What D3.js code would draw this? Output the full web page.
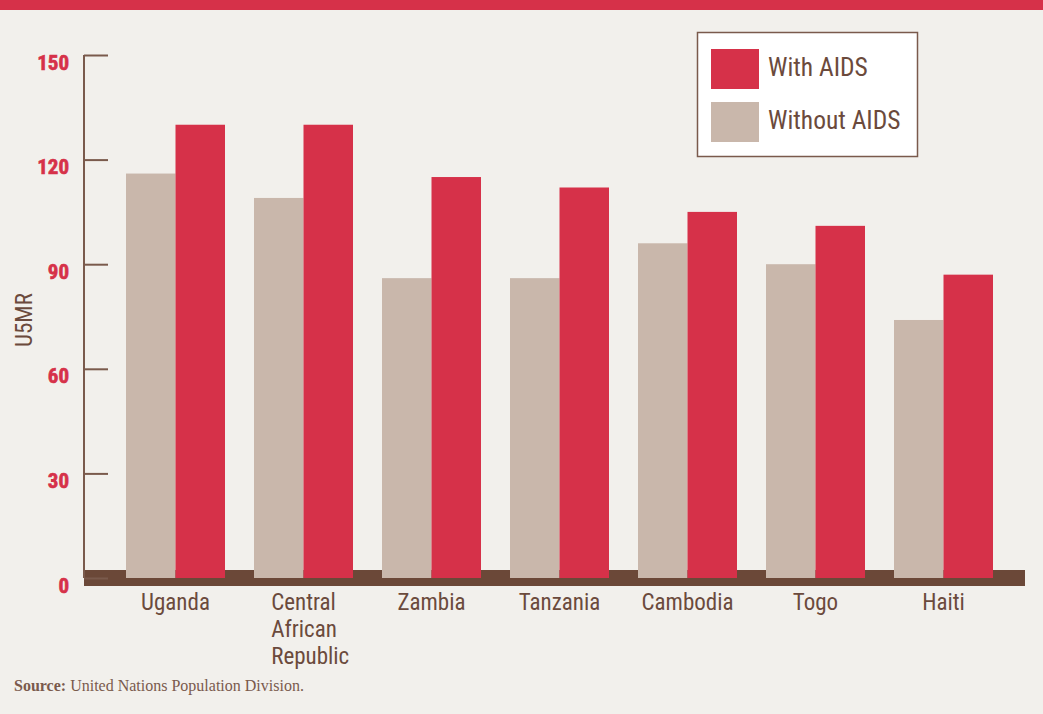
<!DOCTYPE html>
<html>
<head>
<meta charset="utf-8">
<script src="https://cdn.jsdelivr.net/npm/d3@7"></script>
<style>
  html, body { margin: 0; padding: 0; background: #f2f0ec; }
  svg { display: block; }
</style>
</head>
<body>
<svg id="chart" width="1043" height="714"></svg>
<script>
const categories = ["Uganda", "Central African Republic", "Zambia", "Tanzania", "Cambodia", "Togo", "Haiti"];
const categoryLines = [["Uganda"], ["Central", "African", "Republic"], ["Zambia"], ["Tanzania"], ["Cambodia"], ["Togo"], ["Haiti"]];
const seriesNames = ["Without AIDS", "With AIDS"];
const withoutAIDS = [116, 109, 86, 86, 96, 90, 74];
const withAIDS = [130, 130, 115, 112, 105, 101, 87];
const yTicks = [0, 30, 60, 90, 120, 150];
const legendOrder = ["With AIDS", "Without AIDS"];

const RED = "#d63149", TAN = "#c9b7ab", BROWN = "#6b4838", TEXT = "#6b4a3c";
const colors = { "Without AIDS": TAN, "With AIDS": RED };
const labelFont = "'Liberation Sans Narrow', 'Roboto Condensed', 'DejaVu Sans Condensed', sans-serif";

const svg = d3.select("#chart");
const W = 1043, H = 714;

svg.append("rect").attr("width", W).attr("height", H).attr("fill", "#f2f0ec");
svg.append("rect").attr("width", W).attr("height", 10).attr("fill", RED);

const y = d3.scaleLinear().domain([0, 150]).range([578, 55]);
const x0 = d3.scaleBand().domain(categories).range([111.5, 1007.5]).paddingInner(0.2266).paddingOuter(0.1133);
const x1 = d3.scaleBand().domain(seriesNames).range([0, x0.bandwidth()]);

const axisX = 84;

// base band
svg.append("rect").attr("x", axisX).attr("y", y(0) - 8).attr("width", 1025 - axisX).attr("height", 16).attr("fill", BROWN);

// y axis
const yAxis = d3.axisLeft(y).tickValues(yTicks).tickSize(-24).tickFormat("");
const gAxis = svg.append("g").attr("transform", `translate(${axisX},0)`).call(yAxis);
gAxis.select(".domain").attr("stroke", "#7a5a4c").attr("stroke-width", 2).attr("d", `M0,${y(150)}V${y(0)}`);
gAxis.selectAll(".tick line").attr("stroke", "#7a5a4c").attr("stroke-width", 2);

svg.append("g").selectAll("text").data(yTicks).join("text")
  .attr("x", 69).attr("y", d => y(d) + 9)
  .attr("text-anchor", "end").attr("dominant-baseline", "middle")
  .attr("font-family", labelFont).attr("font-weight", "bold").attr("font-size", 21)
  .attr("stroke", RED).attr("stroke-width", 0.6)
  .attr("fill", RED).text(d => d);

// bars
const data = categories.map((c, i) => ({ c, vals: [{ s: "Without AIDS", v: withoutAIDS[i] }, { s: "With AIDS", v: withAIDS[i] }] }));
const groups = svg.append("g").selectAll("g").data(data).join("g")
  .attr("transform", d => `translate(${x0(d.c)},0)`);
groups.selectAll("rect").data(d => d.vals).join("rect")
  .attr("x", d => x1(d.s)).attr("width", x1.bandwidth())
  .attr("y", d => y(d.v)).attr("height", d => y(0) - y(d.v))
  .attr("fill", d => colors[d.s]);

// category labels
categories.forEach((c, i) => {
  const cx = x0(c) + x0.bandwidth() / 2;
  const lines = categoryLines[i];
  const t = svg.append("text")
    .attr("font-family", labelFont).attr("font-size", 23).attr("fill", TEXT);
  lines.forEach((l, j) => {
    t.append("tspan").attr("x", cx).attr("y", 610 + j * 27).text(l);
  });
  if (lines.length > 1) {
    const firstW = t.select("tspan").node().getComputedTextLength();
    t.attr("text-anchor", "start");
    t.selectAll("tspan").attr("x", cx - firstW / 2);
  } else {
    t.attr("text-anchor", "middle");
  }
});

// y title
svg.append("text")
  .attr("transform", "translate(32,320) rotate(-90)")
  .attr("text-anchor", "middle")
  .attr("font-family", labelFont).attr("font-size", 23).attr("fill", TEXT)
  .text("U5MR");

// legend
const lg = svg.append("g");
lg.append("rect").attr("x", 697.5).attr("y", 32.5).attr("width", 220).attr("height", 124)
  .attr("fill", "#ffffff").attr("stroke", "#7a5a4c").attr("stroke-width", 1.5);
legendOrder.forEach((s, i) => {
  lg.append("rect").attr("x", 711).attr("y", 49 + i * 53).attr("width", 48).attr("height", 40).attr("fill", colors[s]);
  lg.append("text").attr("x", 768).attr("y", 69 + i * 53).attr("dominant-baseline", "middle")
    .attr("font-family", labelFont).attr("font-size", 25.5).attr("fill", TEXT).text(s);
});

// source
const src = svg.append("text").attr("x", 14).attr("y", 691)
  .attr("font-family", "'Liberation Serif', 'DejaVu Serif', serif").attr("font-size", 16).attr("fill", "#7a5a4c");
src.append("tspan").attr("font-weight", "bold").text("Source:");
src.append("tspan").text(" United Nations Population Division.");
</script>
</body>
</html>
